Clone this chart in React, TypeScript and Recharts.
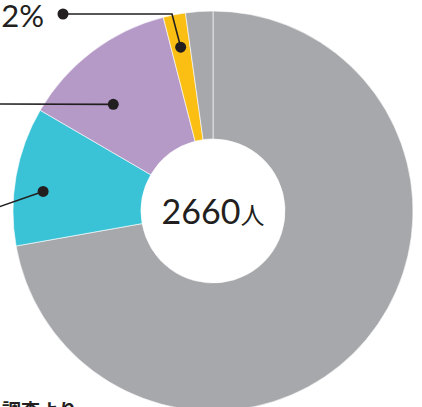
import { PieChart, Pie, Cell } from 'recharts';

const groups = ['main', 'cyan', 'purple', 'yellow', 'other'];
const shares = [72.2, 11.2, 12.6, 1.8, 2.2];
const sliceColors = ['#a7a8ac', '#3ac3d6', '#b59ac8', '#fbbf14', '#a7a8ac'];
const shareLabels = ['', '', '', '2%', ''];
const totalLabel = '2660';
const unitLabel = '人';
const sourceNote = '調査より';

const data = groups.map((name, i) => ({ name, value: shares[i], label: shareLabels[i] }));

const RAD = Math.PI / 180;
const ink = '#231f20';
const CX = 213;
const CY = 211;

// leader line placement for each labelled slice
const leaders: Record<string, { r: number; da: number; path: Array<[number, number]>; text?: [number, number] }> = {
  yellow: { r: 167, da: 0, path: [[172, 14], [63, 14]], text: [44, 27] },
  purple: { r: 146, da: 6, path: [[-10, 104]] },
  cyan: { r: 171, da: 3.5, path: [[-10, 210]] },
};

function renderLeader(props: any) {
  const { cx, cy, midAngle, index } = props;
  const name = groups[index];
  const cfg = leaders[name];
  if (!cfg) return null;
  const a = (midAngle + cfg.da) * RAD;
  const x = cx + cfg.r * Math.cos(-a);
  const y = cy + cfg.r * Math.sin(-a);
  const pts = [[x, y], ...cfg.path].map((p) => p.join(',')).join(' ');
  const end = cfg.path[cfg.path.length - 1];
  return (
    <g key={name}>
      <polyline points={pts} fill="none" stroke={ink} strokeWidth={1.6} />
      <circle cx={x} cy={y} r={5.5} fill={ink} />
      {cfg.text && <circle cx={end[0]} cy={end[1]} r={5.5} fill={ink} />}
      {cfg.text && (
        <text x={cfg.text[0]} y={cfg.text[1]} textAnchor="end" fill={ink} fontSize={31} fontWeight={400}
          fontFamily="Lato, 'Noto Sans', sans-serif">
          {shareLabels[index]}
        </text>
      )}
    </g>
  );
}

export default function App() {
  return (
    <div style={{ position: 'absolute', left: 0, top: 0, width: 422, height: 407, overflow: 'hidden', background: '#fff' }}>
      <PieChart width={422} height={407} margin={{ top: 0, right: 0, bottom: 0, left: 0 }}>
        <Pie
          data={data}
          dataKey="value"
          nameKey="name"
          cx={CX}
          cy={CY}
          innerRadius={72}
          outerRadius={200}
          startAngle={90}
          endAngle={-270}
          stroke="#ffffff"
          strokeWidth={0.6}
          label={renderLeader}
          labelLine={false}
          isAnimationActive={false}
        >
          {data.map((d, i) => (
            <Cell key={d.name} fill={sliceColors[i]} />
          ))}
        </Pie>
      </PieChart>
      <svg width={422} height={407} style={{ position: 'absolute', left: 0, top: 0, pointerEvents: 'none' }}>
        <text x={CX} y={CY + 13} textAnchor="middle" fill={ink} fontFamily="Lato, 'Noto Sans', sans-serif">
          <tspan fontSize={34} fontWeight={400}>{totalLabel}</tspan>
          <tspan fontSize={24} fontFamily="'Noto Sans CJK JP', sans-serif">{unitLabel}</tspan>
        </text>
      </svg>
      <div
        style={{
          position: 'absolute',
          left: 2,
          top: 400,
          fontSize: 19,
          lineHeight: '19px',
          fontWeight: 700,
          color: ink,
          fontFamily: "'Noto Sans CJK JP', sans-serif",
          whiteSpace: 'nowrap',
        }}
      >
        {sourceNote}
      </div>
    </div>
  );
}
